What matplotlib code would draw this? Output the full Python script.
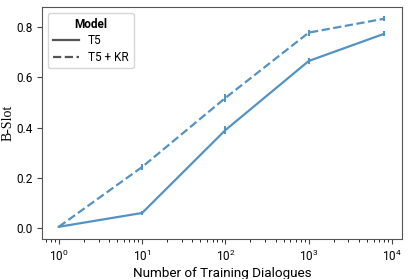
import numpy as np
import matplotlib.pyplot as plt
from matplotlib.lines import Line2D

plt.rcParams['font.family'] = ['Roboto', 'DejaVu Sans']

# Datos
n_dialogos = [1, 10, 100, 1000, 8000]
t5 = [0.005, 0.06, 0.39, 0.665, 0.773]
t5_kr = [0.005, 0.243, 0.518, 0.778, 0.833]
t5_err = [0.005, 0.008, 0.015, 0.012, 0.01]
t5_kr_err = [0.005, 0.012, 0.015, 0.012, 0.01]

color = "#5393c2"

fig, ax = plt.subplots(figsize=(4.09, 2.79), dpi=100)
ax.errorbar(n_dialogos, t5, yerr=t5_err, color=color, linestyle="-", lw=1.6,
            ecolor=color, elinewidth=1.5)
ax.errorbar(n_dialogos, t5_kr, yerr=t5_kr_err, color=color, linestyle="--", lw=1.6,
            ecolor=color, elinewidth=1.5)

ax.set_xscale("log")
ax.set_xlim(10 ** -0.2, 10 ** 4.12)
ax.set_ylim(-0.044, 0.88)
ax.set_yticks([0.0, 0.2, 0.4, 0.6, 0.8])
ax.set_xlabel("Number of Training Dialogues", fontsize=9.7, labelpad=2)
ax.set_ylabel("B-Slot", fontsize=10, family="Liberation Serif", labelpad=1)
ax.tick_params(labelsize=8.5, color="#444444")
for s in ax.spines.values():
    s.set_color("#555555")

handles = [Line2D([], [], color="#555555", lw=1.6, linestyle="-"),
           Line2D([], [], color="#555555", lw=1.6, linestyle="--")]
leg = ax.legend(handles, ["T5", "T5 + KR"], title="Model", fontsize=8.5,
                title_fontsize=8.5, loc="upper left", handlelength=2.2,
                labelspacing=0.3, borderpad=0.4)
leg.get_title().set_fontweight("bold")

plt.subplots_adjust(left=0.103, right=0.983, top=0.975, bottom=0.143)
plt.savefig("out.png")
